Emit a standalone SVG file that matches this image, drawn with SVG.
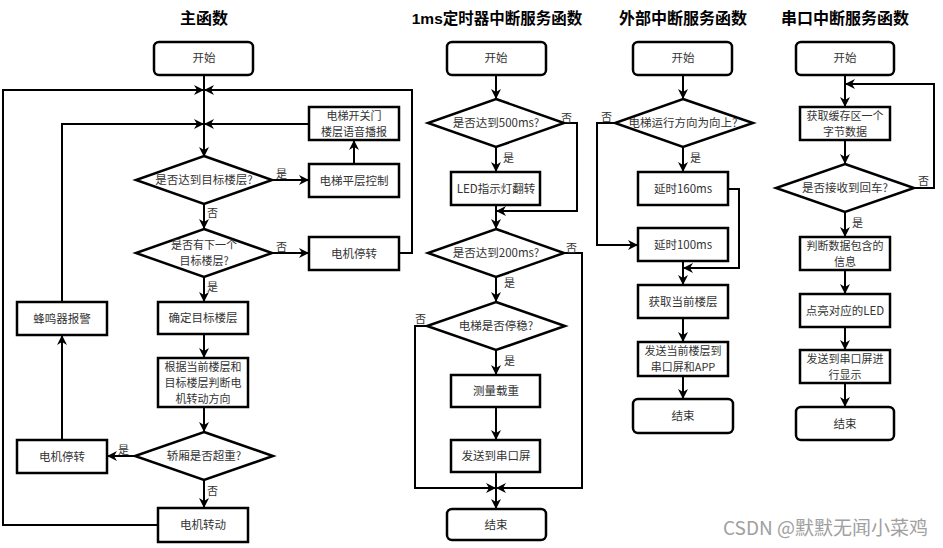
<svg xmlns="http://www.w3.org/2000/svg" width="943" height="548" viewBox="0 0 943 548">
<style>
.bg{fill:#fff}
.n{fill:#fff;stroke:#000;stroke-width:2.5}
.t{font-family:"Noto Sans CJK SC","Liberation Sans",sans-serif;font-size:11.5px;fill:#333;text-anchor:middle}
.m{font-family:"Noto Sans CJK SC","Liberation Sans",sans-serif;font-size:11px;fill:#333;text-anchor:middle}
.h{font-family:"Liberation Sans","Noto Sans CJK SC",sans-serif;font-size:16px;font-weight:bold;fill:#000;text-anchor:middle}
.l{font-family:"Noto Sans CJK SC",sans-serif;font-size:11px;fill:#333}
.c{fill:none;stroke:#000;stroke-width:2;marker-end:url(#a)}
.w{font-family:"Noto Sans CJK SC","Liberation Sans",sans-serif;font-size:19px;fill:#a0a0a0;text-anchor:end}
</style>
<defs>
<marker id="a" viewBox="0 0 10 10" markerWidth="11" markerHeight="10" refX="10" refY="5" orient="auto" markerUnits="userSpaceOnUse">
<path d="M0,0 L10,5 L0,10 L3,5 z" fill="#000"/>
</marker>
</defs>
<rect class="bg" x="0" y="0" width="943" height="548"/>
<g id="titles">
<text class="h" x="204" y="24">主函数</text>
<text class="h" x="497" y="24" style="font-size:15.5px">1ms定时器中断服务函数</text>
<text class="h" x="683" y="24">外部中断服务函数</text>
<text class="h" x="845" y="24">串口中断服务函数</text>
</g>
<g id="connectors">
<path class="c" d="M204,75 V157"/>
<path class="c" d="M158,525 H3 V90 H204"/>
<path class="c" d="M399,253 H412 V90 H204"/>
<path class="c" d="M309,124 H204"/>
<path class="c" d="M62,302 V124 H204"/>
<path class="c" d="M272,180 H309"/>
<path class="c" d="M354,164 V140"/>
<path class="c" d="M204,204 V229"/>
<path class="c" d="M272,253 H309"/>
<path class="c" d="M204,277 V302"/>
<path class="c" d="M204,334 V358"/>
<path class="c" d="M204,407 V432"/>
<path class="c" d="M135,456 H107"/>
<path class="c" d="M62,440 V335"/>
<path class="c" d="M204,480 V508"/>
<path class="c" d="M496,75 V99"/>
<path class="c" d="M564,123 H577 V211 H496"/>
<path class="c" d="M496,147 V172"/>
<path class="c" d="M496,205 V229"/>
<path class="c" d="M564,253 H582 V488 H496"/>
<path class="c" d="M496,277 V302"/>
<path class="c" d="M427,326 H415 V488 H496"/>
<path class="c" d="M496,350 V375"/>
<path class="c" d="M496,407 V440"/>
<path class="c" d="M496,472 V509"/>
<path class="c" d="M683,75 V99"/>
<path class="c" d="M615,123 H597 V245 H638"/>
<path class="c" d="M683,147 V172"/>
<path class="c" d="M728,189 H739 V268 H683"/>
<path class="c" d="M683,261 V285"/>
<path class="c" d="M683,318 V342"/>
<path class="c" d="M683,376 V399"/>
<path class="c" d="M845,75 V107"/>
<path class="c" d="M914,188 H934 V84 H845"/>
<path class="c" d="M845,140 V164"/>
<path class="c" d="M845,212 V237"/>
<path class="c" d="M845,270 V294"/>
<path class="c" d="M845,327 V350"/>
<path class="c" d="M845,383 V407"/>
</g>
<g id="labels">
<text class="l" x="276" y="178">是</text>
<text class="l" x="207" y="217">否</text>
<text class="l" x="276" y="251">否</text>
<text class="l" x="207" y="291">是</text>
<text class="l" x="118" y="454">是</text>
<text class="l" x="207" y="495">否</text>
<text class="l" x="561" y="122">否</text>
<text class="l" x="503" y="162">是</text>
<text class="l" x="566" y="252">否</text>
<text class="l" x="504" y="287">是</text>
<text class="l" x="415" y="323">否</text>
<text class="l" x="504" y="365">是</text>
<text class="l" x="601" y="121">否</text>
<text class="l" x="690" y="162">是</text>
<text class="l" x="918" y="185">否</text>
<text class="l" x="852" y="227">是</text>
</g>
<g id="m_start"><rect class="n" x="154" y="42" width="99" height="33" rx="5"/><text class="t" x="204" y="62">开始</text></g>
<g id="m_d1"><polygon class="n" points="204,156 272,180 204,204 136,180"/><text class="t" x="204" y="184">是否达到目标楼层?</text></g>
<g id="m_level"><rect class="n" x="309" y="164" width="90" height="33"/><text class="t" x="354" y="185">电梯平层控制</text></g>
<g id="m_door"><rect class="n" x="309" y="107" width="90" height="33"/><text class="m" x="354" y="120">电梯开关门</text><text class="m" x="354" y="136">楼层语音播报</text></g>
<g id="m_d2"><polygon class="n" points="204,229 272,253 204,277 136,253"/><text class="m" x="204" y="249">是否有下一个</text><text class="m" x="204" y="265">目标楼层?</text></g>
<g id="m_stop1"><rect class="n" x="309" y="237" width="90" height="33"/><text class="t" x="354" y="258">电机停转</text></g>
<g id="m_target"><rect class="n" x="158" y="302" width="90" height="32"/><text class="t" x="203" y="322">确定目标楼层</text></g>
<g id="m_dir"><rect class="n" x="158" y="358" width="90" height="49"/><text class="m" x="203" y="371">根据当前楼层和</text><text class="m" x="203" y="387">目标楼层判断电</text><text class="m" x="203" y="403">机转动方向</text></g>
<g id="m_d3"><polygon class="n" points="204,432 273,456 204,480 135,456"/><text class="t" x="204" y="460">轿厢是否超重?</text></g>
<g id="m_stop2"><rect class="n" x="17" y="440" width="90" height="33"/><text class="t" x="62" y="461">电机停转</text></g>
<g id="m_buzz"><rect class="n" x="17" y="302" width="90" height="33"/><text class="t" x="62" y="323">蜂鸣器报警</text></g>
<g id="m_run"><rect class="n" x="158" y="508" width="90" height="34"/><text class="t" x="203" y="529">电机转动</text></g>
<g id="t_start"><rect class="n" x="447" y="42" width="99" height="33" rx="5"/><text class="t" x="496" y="62">开始</text></g>
<g id="t_d1"><polygon class="n" points="496,99 564,123 496,147 428,123"/><text class="t" x="496" y="127">是否达到500ms?</text></g>
<g id="t_led"><rect class="n" x="451" y="172" width="89" height="33"/><text class="t" x="496" y="193">LED指示灯翻转</text></g>
<g id="t_d2"><polygon class="n" points="496,229 564,253 496,277 428,253"/><text class="t" x="496" y="257">是否达到200ms?</text></g>
<g id="t_d3"><polygon class="n" points="496,302 565,326 496,350 427,326"/><text class="t" x="496" y="330">电梯是否停稳?</text></g>
<g id="t_weigh"><rect class="n" x="451" y="375" width="89" height="32"/><text class="t" x="496" y="395">测量载重</text></g>
<g id="t_send"><rect class="n" x="451" y="440" width="89" height="32"/><text class="t" x="496" y="460">发送到串口屏</text></g>
<g id="t_end"><rect class="n" x="447" y="509" width="99" height="31" rx="5"/><text class="t" x="496" y="529">结束</text></g>
<g id="e_start"><rect class="n" x="633" y="42" width="99" height="33" rx="5"/><text class="t" x="683" y="62">开始</text></g>
<g id="e_d1"><polygon class="n" points="683,99 753,123 683,147 615,123"/><text class="t" x="683" y="127">电梯运行方向为向上?</text></g>
<g id="e_160"><rect class="n" x="638" y="172" width="90" height="33"/><text class="t" x="683" y="193">延时160ms</text></g>
<g id="e_100"><rect class="n" x="638" y="228" width="90" height="33"/><text class="t" x="683" y="249">延时100ms</text></g>
<g id="e_get"><rect class="n" x="638" y="285" width="90" height="33"/><text class="t" x="683" y="306">获取当前楼层</text></g>
<g id="e_send"><rect class="n" x="638" y="342" width="90" height="34"/><text class="m" x="683" y="355">发送当前楼层到</text><text class="m" x="683" y="371">串口屏和APP</text></g>
<g id="e_end"><rect class="n" x="633" y="399" width="100" height="34" rx="5"/><text class="t" x="683" y="420">结束</text></g>
<g id="s_start"><rect class="n" x="796" y="42" width="98" height="33" rx="5"/><text class="t" x="845" y="62">开始</text></g>
<g id="s_get"><rect class="n" x="800" y="107" width="90" height="33"/><text class="m" x="845" y="120">获取缓存区一个</text><text class="m" x="845" y="136">字节数据</text></g>
<g id="s_d1"><polygon class="n" points="845,164 914,188 845,212 776,188"/><text class="t" x="845" y="192">是否接收到回车?</text></g>
<g id="s_parse"><rect class="n" x="800" y="237" width="90" height="33"/><text class="m" x="845" y="250">判断数据包含的</text><text class="m" x="845" y="266">信息</text></g>
<g id="s_led"><rect class="n" x="800" y="294" width="90" height="33"/><text class="t" x="845" y="315">点亮对应的LED</text></g>
<g id="s_send"><rect class="n" x="800" y="350" width="90" height="33"/><text class="m" x="845" y="363">发送到串口屏进</text><text class="m" x="845" y="379">行显示</text></g>
<g id="s_end"><rect class="n" x="796" y="407" width="98" height="33" rx="5"/><text class="t" x="845" y="428">结束</text></g>
<text class="w" x="928" y="535">CSDN @默默无闻小菜鸡</text>
</svg>
